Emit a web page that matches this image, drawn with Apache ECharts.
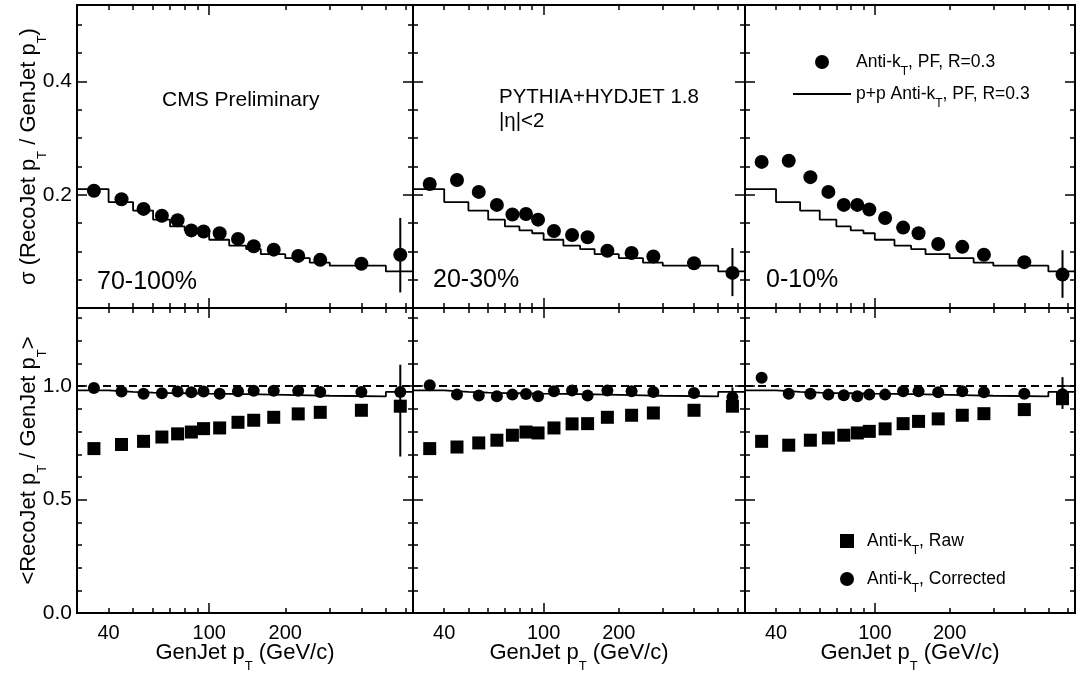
<!DOCTYPE html>
<html>
<head>
<meta charset="utf-8">
<script src="https://cdn.jsdelivr.net/npm/echarts@6/dist/echarts.min.js"></script>
<style>
  html, body { margin: 0; padding: 0; background: #fff; }
  #chart { width: 1077px; height: 675px; }
</style>
</head>
<body>
<div id="chart"></div>
<script>
// GenJet pT bins (GeV/c)
const binEdges = [30, 40, 50, 60, 70, 80, 90, 100, 120, 140, 160, 200, 250, 300, 500, 640];
const binCenters = [35, 45, 55, 65, 75, 85, 95, 110, 130, 150, 180, 225, 275, 400, 570];

const centralities = ['70-100%', '20-30%', '0-10%'];

// p+p reference (same curve in every panel)
const ppSigma = [0.210, 0.187, 0.172, 0.156, 0.144, 0.137, 0.132, 0.1205, 0.110, 0.104, 0.095, 0.088, 0.080, 0.0747, 0.0646];
const ppMean = [0.982, 0.975, 0.972, 0.970, 0.969, 0.968, 0.967, 0.966, 0.965, 0.964, 0.962, 0.960, 0.958, 0.955, 0.975];

// sigma(RecoJet pT / GenJet pT), PbPb anti-kT PF R=0.3
const sigma70 = [0.207, 0.192, 0.175, 0.163, 0.155, 0.137, 0.135, 0.132, 0.122, 0.109, 0.103, 0.092, 0.085, 0.078, 0.094];
const sigma20 = [0.219, 0.226, 0.205, 0.182, 0.165, 0.166, 0.156, 0.136, 0.129, 0.125, 0.101, 0.097, 0.091, 0.079, 0.062];
const sigma0 = [0.258, 0.260, 0.231, 0.205, 0.182, 0.182, 0.174, 0.159, 0.142, 0.132, 0.113, 0.108, 0.094, 0.081, 0.059];

// <RecoJet pT / GenJet pT>
const raw70 = [0.725, 0.743, 0.757, 0.776, 0.790, 0.798, 0.813, 0.816, 0.841, 0.850, 0.863, 0.878, 0.885, 0.894, 0.912];
const raw20 = [0.725, 0.732, 0.750, 0.762, 0.784, 0.798, 0.794, 0.816, 0.834, 0.835, 0.863, 0.872, 0.882, 0.894, 0.912];
const raw0 = [0.757, 0.740, 0.762, 0.772, 0.784, 0.794, 0.801, 0.812, 0.835, 0.845, 0.856, 0.872, 0.879, 0.897, 0.945];
const corr70 = [0.992, 0.977, 0.967, 0.969, 0.977, 0.973, 0.977, 0.967, 0.978, 0.980, 0.980, 0.980, 0.975, 0.975, 0.975];
const corr20 = [1.004, 0.963, 0.959, 0.956, 0.963, 0.966, 0.956, 0.978, 0.981, 0.959, 0.981, 0.978, 0.975, 0.970, 0.952];
const corr0 = [1.037, 0.967, 0.967, 0.963, 0.960, 0.956, 0.963, 0.963, 0.978, 0.978, 0.973, 0.978, 0.973, 0.967, 0.965];

// error bars on the last bin: [pT, low, high]
const sigmaErr = [[570, 0.0275, 0.159], [570, 0.021, 0.106], [570, 0.018, 0.102]];
const meanErr = [[570, 0.69, 1.095], [570, 0.915, 0.995], [570, 0.90, 1.04]];

// axis ticks / labels
const xLabels = [40, 100, 200];
const xMajor = [100];
const xMinor = [40, 50, 60, 70, 80, 90, 200, 300, 400, 500, 600];
const sigmaLabels = [0.2, 0.4];
const sigmaMajor = [0, 0.2, 0.4];
const sigmaMinor = [0.05, 0.1, 0.15, 0.25, 0.3, 0.35, 0.45, 0.5];
const meanLabels = [0, 0.5, 1.0];
const meanMajor = [0, 0.5, 1.0];
const meanMinor = [0.1, 0.2, 0.3, 0.4, 0.6, 0.7, 0.8, 0.9, 1.1, 1.2, 1.3];

const sigmaSets = [sigma70, sigma20, sigma0];
const rawSets = [raw70, raw20, raw0];
const corrSets = [corr70, corr20, corr0];

const FONT = 'Liberation Sans, Arial, Helvetica, sans-serif';
const BLACK = '#000';

const cols = [{ left: 77, width: 336 }, { left: 413, width: 332 }, { left: 745, width: 330 }];
const rows = [{ top: 5, height: 303, yMax: 0.535 }, { top: 308, height: 305, yMax: 1.345 }];

const subRich = (fs, lh) => ({ sub: { fontSize: fs, lineHeight: lh, verticalAlign: 'bottom', fontFamily: FONT, color: BLACK } });

const grids = [];
const xAxes = [];
const yAxes = [];
const mainX = [];
const mainY = [];

function addX(gi, pos, ticks, len, label, name) {
  const ax = {
    type: 'log', logBase: 10, gridIndex: gi, min: 30, max: 640, position: pos,
    splitLine: { show: false },
    axisLine: { onZero: false, lineStyle: { color: BLACK, width: 2 } },
    axisTick: { inside: true, length: len, customValues: ticks, lineStyle: { color: BLACK, width: 1.5 } },
    axisLabel: label || { show: false }
  };
  if (name) Object.assign(ax, name);
  xAxes.push(ax);
  return xAxes.length - 1;
}

function addY(gi, pos, yMax, ticks, len, label, name) {
  const ax = {
    type: 'value', gridIndex: gi, min: 0, max: yMax, position: pos,
    splitLine: { show: false },
    axisLine: { onZero: false, lineStyle: { color: BLACK, width: 2 } },
    axisTick: { inside: true, length: len, customValues: ticks, lineStyle: { color: BLACK, width: 1.5 } },
    axisLabel: label || { show: false }
  };
  if (name) Object.assign(ax, name);
  yAxes.push(ax);
  return yAxes.length - 1;
}

rows.forEach((row, r) => {
  cols.forEach((col, c) => {
    const gi = grids.length;
    grids.push({
      left: col.left, top: row.top, width: col.width, height: row.height,
      containLabel: false, outerBoundsMode: 'none'
    });

    const bottomRow = r === 1;
    const xLabel = bottomRow ? {
      show: true, customValues: xLabels, margin: 10, fontSize: 20, fontFamily: FONT, color: BLACK
    } : null;
    const xName = bottomRow ? {
      name: 'GenJet p{sub|T} (GeV/c)', nameLocation: 'middle', nameGap: 20, nameMoveOverlap: false,
      nameTextStyle: { fontSize: 22, fontFamily: FONT, color: BLACK, lineHeight: 40, rich: subRich(13, 13) }
    } : null;
    mainX.push(addX(gi, 'bottom', xMinor, 5, xLabel, xName));
    addX(gi, 'bottom', xMajor, 10);
    addX(gi, 'top', xMinor, 5);
    addX(gi, 'top', xMajor, 10);

    const minor = bottomRow ? meanMinor : sigmaMinor;
    const major = bottomRow ? meanMajor : sigmaMajor;
    let yLabel = null, yName = null;
    if (c === 0) {
      yLabel = {
        show: true, customValues: bottomRow ? meanLabels : sigmaLabels, margin: 5,
        fontSize: 21, fontFamily: FONT, color: BLACK, formatter: v => v.toFixed(1)
      };
      yName = {
        name: bottomRow ? '<RecoJet p{sub|T} / GenJet p{sub|T}>' : 'σ (RecoJet p{sub|T} / GenJet p{sub|T})',
        nameLocation: 'middle', nameRotate: 90, nameGap: 28, nameMoveOverlap: false,
        nameTextStyle: { fontSize: 22, fontFamily: FONT, color: BLACK, lineHeight: 40, rich: subRich(13, 13) }
      };
    }
    mainY.push(addY(gi, 'left', row.yMax, major, 10, yLabel, yName));
    addY(gi, 'left', row.yMax, minor, 5);
    addY(gi, 'right', row.yMax, major, 10);
    addY(gi, 'right', row.yMax, minor, 5);
  });
});

const errorBar = (gi, err) => ({
  type: 'custom', xAxisIndex: mainX[gi], yAxisIndex: mainY[gi], silent: true, z: 4,
  encode: { x: 0, y: [1, 2] },
  data: [err],
  renderItem: (params, api) => {
    const p1 = api.coord([api.value(0), api.value(1)]);
    const p2 = api.coord([api.value(0), api.value(2)]);
    return { type: 'line', shape: { x1: p1[0], y1: p1[1], x2: p2[0], y2: p2[1] }, style: { stroke: BLACK, lineWidth: 2 } };
  }
});

const stepData = vals => binEdges.map((e, i) => [e, vals[Math.min(i, vals.length - 1)]]);
const dot = { color: BLACK, opacity: 1 };

const series = [];
for (let c = 0; c < 3; c++) {
  const gt = c, gb = 3 + c;
  series.push({
    name: 'p+p Anti-kT, PF, R=0.3', type: 'line', step: 'end', symbol: 'none',
    xAxisIndex: mainX[gt], yAxisIndex: mainY[gt], data: stepData(ppSigma),
    lineStyle: { color: BLACK, width: 1.8 }, itemStyle: { color: BLACK }, z: 3
  });
  series.push({
    name: 'Anti-kT, PF, R=0.3', type: 'scatter', symbol: 'circle', symbolSize: 14,
    xAxisIndex: mainX[gt], yAxisIndex: mainY[gt],
    data: binCenters.map((x, i) => [x, sigmaSets[c][i]]), itemStyle: dot, z: 5
  });
  series.push(errorBar(gt, sigmaErr[c]));

  series.push({
    name: 'p+p mean', type: 'line', step: 'end', symbol: 'none',
    xAxisIndex: mainX[gb], yAxisIndex: mainY[gb], data: stepData(ppMean),
    lineStyle: { color: BLACK, width: 1.8 }, itemStyle: { color: BLACK }, z: 3,
    markLine: {
      silent: true, symbol: ['none', 'none'], label: { show: false },
      lineStyle: { color: BLACK, width: 1.8, type: [8, 5] },
      data: [{ yAxis: 1 }]
    }
  });
  series.push({
    name: 'Anti-kT, Raw', type: 'scatter', symbol: 'rect', symbolSize: 13,
    xAxisIndex: mainX[gb], yAxisIndex: mainY[gb],
    data: binCenters.map((x, i) => [x, rawSets[c][i]]), itemStyle: dot, z: 5
  });
  series.push({
    name: 'Anti-kT, Corrected', type: 'scatter', symbol: 'circle', symbolSize: 12,
    xAxisIndex: mainX[gb], yAxisIndex: mainY[gb],
    data: binCenters.map((x, i) => [x, corrSets[c][i]]), itemStyle: dot, z: 5
  });
  series.push(errorBar(gb, meanErr[c]));
}

const legendText = {
  fontSize: 17.5, fontFamily: FONT, color: BLACK, lineHeight: 32, rich: subRich(12, 12)
};
const subFormatter = name => name.replace('kT', 'k{sub|T}');
const squareIcon = 'path://M0,0L10,0L10,10L0,10Z';

const textLabel = (x, y, text, size) => ({
  type: 'text', x: x, y: y, silent: true,
  style: { text: text, fill: BLACK, font: size + 'px ' + FONT, align: 'left', verticalAlign: 'middle' }
});

const chart = echarts.init(document.getElementById('chart'));
chart.setOption({
  animation: false,
  backgroundColor: '#fff',
  grid: grids,
  xAxis: xAxes,
  yAxis: yAxes,
  legend: [
    {
      data: [
        { name: 'Anti-kT, PF, R=0.3', icon: 'circle' },
        { name: 'p+p Anti-kT, PF, R=0.3', itemStyle: { opacity: 0 } }
      ],
      orient: 'vertical', left: 787, top: 41, padding: 5, itemWidth: 58, itemHeight: 14, itemGap: 0,
      selectedMode: false, formatter: subFormatter, textStyle: legendText
    },
    {
      data: [
        { name: 'Anti-kT, Raw', icon: squareIcon },
        { name: 'Anti-kT, Corrected', icon: 'circle' }
      ],
      orient: 'vertical', left: 835, top: 520, padding: 5, itemWidth: 30, itemHeight: 14, itemGap: 6,
      selectedMode: false, formatter: subFormatter, textStyle: legendText
    }
  ],
  graphic: [
    textLabel(162, 100, 'CMS Preliminary', 21),
    textLabel(499, 97, 'PYTHIA+HYDJET 1.8', 20.5),
    textLabel(499, 121, '|η|<2', 20.5),
    textLabel(97, 282, centralities[0], 25),
    textLabel(433, 280, centralities[1], 25),
    textLabel(766, 280, centralities[2], 25)
  ],
  series: series
});
</script>
</body>
</html>
